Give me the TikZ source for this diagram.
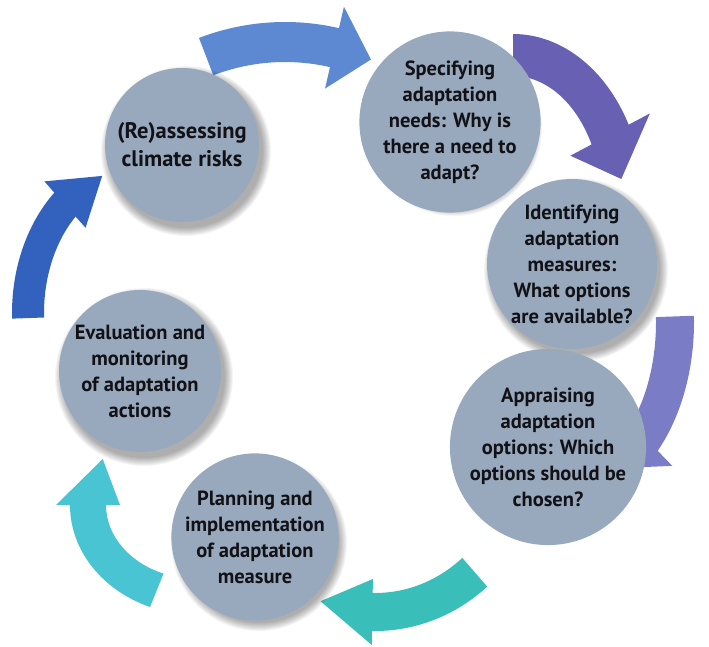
\documentclass[tikz,border=0pt]{standalone}
\usepackage{fontspec}
\setmainfont{PT Sans}
\usetikzlibrary{calc}
\definecolor{bub}{RGB}{152,169,190}
\definecolor{txt}{RGB}{18,18,22}
\definecolor{arA}{RGB}{92,137,210}
\definecolor{arB}{RGB}{104,96,178}
\definecolor{arC}{RGB}{122,124,198}
\definecolor{arD}{RGB}{58,190,186}
\definecolor{arE}{RGB}{72,196,210}
\definecolor{arF}{RGB}{50,98,190}
\tikzset{
  bubblestyle/.style={circle, fill=bub, inner sep=0pt, align=center, text=txt,
    font=\fontsize{20.5}{26}\selectfont\bfseries},
  bigtext/.style={font=\fontsize{22.5}{28}\selectfont\bfseries}
}
% #1 color, #2 center (x,y), #3 a, #4 b, #5 tail angle, #6 tip angle, #7 head-base angle, #8 width, #9 head width
\newcommand{\cyclearrow}[9]{%
  \pgfmathsetmacro\aO{#3+#8/2}\pgfmathsetmacro\bO{#4+#8/2}%
  \pgfmathsetmacro\aI{#3-#8/2}\pgfmathsetmacro\bI{#4-#8/2}%
  \pgfmathsetmacro\aHO{#3+#9/2}\pgfmathsetmacro\bHO{#4+#9/2}%
  \pgfmathsetmacro\aHI{#3-#9/2}\pgfmathsetmacro\bHI{#4-#9/2}%
  \begin{scope}[shift={(#2)}]
    \fill[#1] (#5:\aO pt and \bO pt)
      arc[start angle=#5, end angle=#7, x radius=\aO pt, y radius=\bO pt]
      -- (#7:\aHO pt and \bHO pt) -- (#6:#3pt and #4pt) -- (#7:\aHI pt and \bHI pt)
      -- (#7:\aI pt and \bI pt)
      arc[start angle=#7, end angle=#5, x radius=\aI pt, y radius=\bI pt] -- cycle;
  \end{scope}}
% #1 name, #2 x, #3 y (pixels, downwards), #4 radius, #5 extra style, #6 text
\newcommand{\bubble}[6]{%
  \foreach \k in {1,...,9}{\fill[black, opacity=0.04] (#2+4,-#3-6) circle[radius=#4+9-\k];}
  \node[bubblestyle, #5, minimum size={2*#4pt}] (#1) at (#2,-#3) {#6};}
\begin{document}
\begin{tikzpicture}[x=1pt,y=1pt]
\useasboundingbox (0,0) rectangle (709,-646);
\fill[white] (0,0) rectangle (709,-646);
% arrows
\cyclearrow{arA}{285,-262}{220}{220}{111}{67}{77}{40}{84}
\cyclearrow{arB}{513,-205}{110}{150}{90}{10}{28}{42}{90}
\cyclearrow{arC}{575,-322}{100}{160}{2}{-66}{-46}{38}{80}
\cyclearrow{arD}{375,-450}{152}{162}{-49}{-111}{-91}{38}{66}
\cyclearrow{arE}{198,-505}{110}{92}{248}{150}{180}{36}{64}
\cyclearrow{arF}{138,-313}{110}{145}{182}{109}{131.6}{32}{62}
% bubbles
\bubble{c1}{182}{145}{77}{bigtext}{(Re)assessing\\climate risks}
\bubble{c2}{450}{122}{80}{}{Specifying\\adaptation\\needs: Why is\\there a need to\\adapt?}
\bubble{c3}{572}{264}{84}{}{Identifying\\adaptation\\measures:\\What options\\are available?}
\bubble{c4}{548}{447}{82}{}{Appraising\\adaptation\\options: Which\\options should be\\chosen?}
\bubble{c5}{255}{537}{80}{}{Planning and\\implementation\\of adaptation\\measure}
\bubble{c6}{140}{371}{81}{}{Evaluation and\\monitoring\\of adaptation\\actions}
\end{tikzpicture}
\end{document}
